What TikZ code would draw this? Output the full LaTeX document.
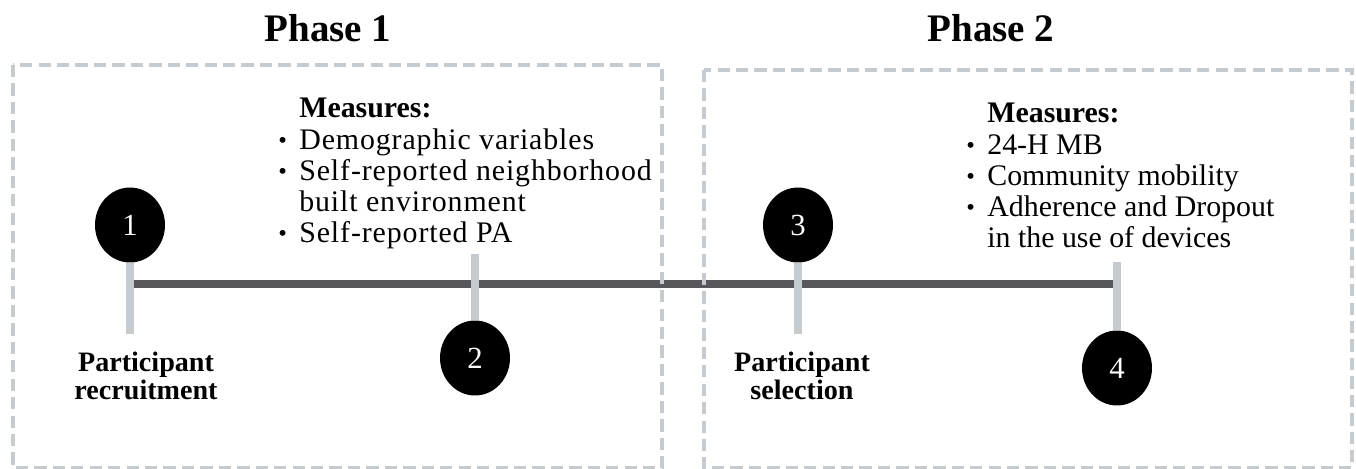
\documentclass[tikz,border=0pt]{standalone}
\usepackage{fontspec}
\setmainfont{Liberation Serif}
\newfontfamily\spacedfont{Liberation Serif}[LetterSpace=3]
\usetikzlibrary{shapes.geometric}

\definecolor{boxgray}{HTML}{C5CBCE}
\definecolor{linegray}{HTML}{58575B}
\newcommand{\itm}{\llap{{\fontsize{14}{14}\selectfont\raisebox{0.5pt}{\textbullet}}\hspace{7pt}}}

\tikzset{
  phase/.style={anchor=base, inner sep=0pt, font=\bfseries\fontsize{22.2}{24}\selectfont},
  num/.style={ellipse, fill=black, text=white, minimum width=1.4cm, minimum height=1.5cm, inner sep=0pt, font=\fontsize{17.5}{17.5}\selectfont},
  meas/.style={anchor=north west, align=left, inner sep=0pt, font=\fontsize{17}{17.7}\selectfont},
  lab/.style={anchor=north, align=center, inner sep=0pt, font=\bfseries\fontsize{16}{16}\selectfont},
  timeline/.style={linegray, line width=5.1pt},
  tick/.style={boxgray, line width=4pt},
  phasebox/.style={boxgray, line width=2.3pt, dash pattern=on 7pt off 3.5pt}
}

\begin{document}
\begin{tikzpicture}[x=0.02cm, y=-0.02cm]
  \useasboundingbox (0,0) rectangle (1356,469);

  % 見出し
  \node[phase] (p1) at (328,42) {Phase 1};
  \node[phase] (p2) at (991,42) {Phase 2};

  % 番号
  \node[num] (n1) at (130,225) {1};
  \node[num] (n2) at (475,358) {2};
  \node[num] (n3) at (798,225) {3};
  \node[num] (n4) at (1117,368) {4};

  % 線の端
  \coordinate (t0) at (128,284);
  \coordinate (t1) at (1114,284);
  \coordinate (k1) at (130,334);
  \coordinate (k2) at (475,254);
  \coordinate (k3) at (798,334);
  \coordinate (k4) at (1117,262);

  % 線を引く
  \draw[timeline] (t0) -- (t1);
  \draw[tick] (n1) -- (k1);
  \draw[tick] (k2) -- (n2);
  \draw[tick] (n3) -- (k3);
  \draw[tick] (k4) -- (n4);

  % 枠
  \draw[phasebox] (13,65) rectangle (662,468);
  \draw[phasebox] (704,70) rectangle (1352,468);

  % 文字を入れる
  \node[meas] (m1) at (299,98) {{\bfseries Measures:}\\
    \spacedfont\itm Demographic variables\\
    \spacedfont\itm Self-reported neighborhood\\
    \spacedfont built environment\\
    \spacedfont\itm Self-reported PA};
  \node[meas] (m2) at (987,103) {{\bfseries Measures:}\\
    \itm 24-H MB\\
    \itm Community mobility\\
    \itm Adherence and Dropout\\
    in the use of devices};
  \node[lab] (l1) at (146,352) {Participant\\recruitment};
  \node[lab] (l3) at (802,352) {Participant\\selection};

\end{tikzpicture}
\end{document}
